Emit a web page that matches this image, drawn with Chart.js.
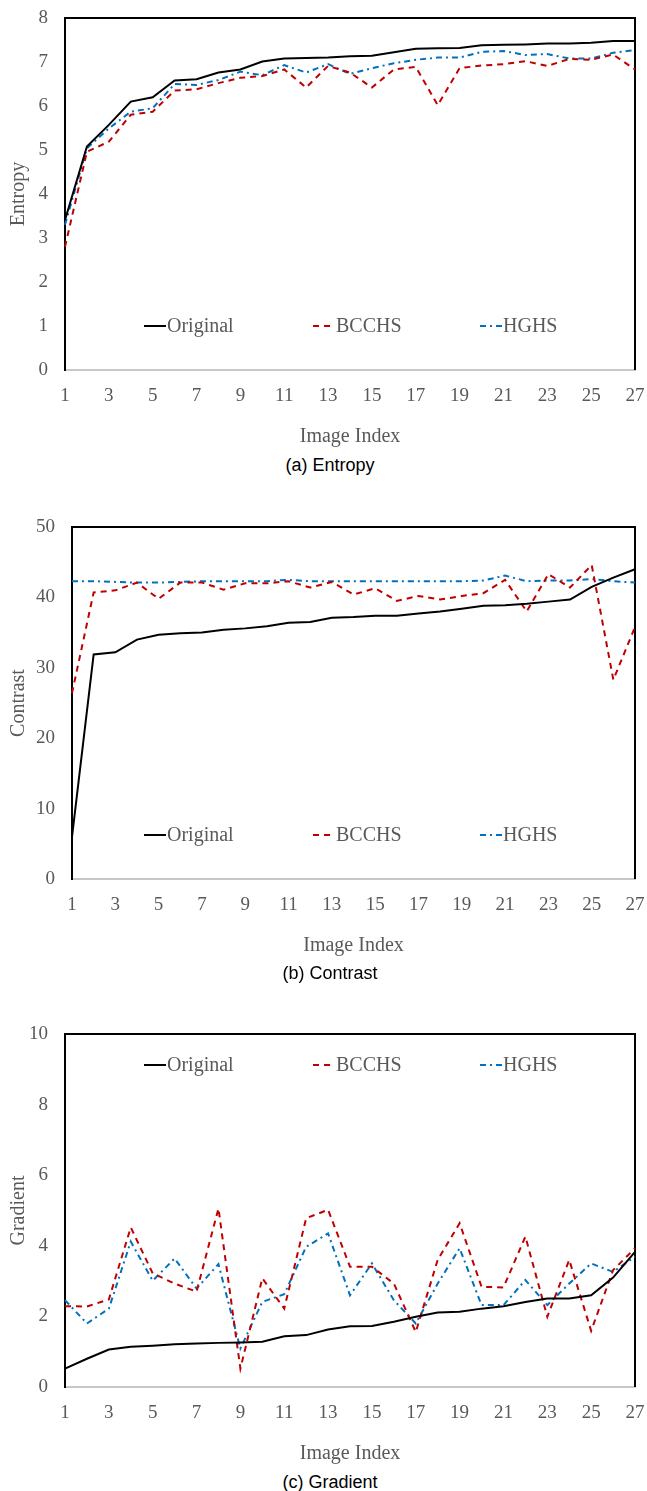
<!DOCTYPE html>
<html>
<head>
<meta charset="utf-8">
<script src="https://cdn.jsdelivr.net/npm/chart.js@4/dist/chart.umd.min.js"></script>
<style>
  body { margin: 0; background: #fff; }
  #page { position: relative; width: 647px; height: 1491px; }
  canvas { position: absolute; left: 0; }
  .caption {
    position: absolute; left: 0; width: 660px; text-align: center;
    font-family: "Liberation Sans", Arial, sans-serif; font-size: 18px; color: #000;
    line-height: 20px;
  }
</style>
</head>
<body>
<div id="page">
  <canvas id="entropyChart"></canvas>
  <canvas id="contrastChart"></canvas>
  <canvas id="gradientChart"></canvas>
  <div class="caption" style="top:455px">(a) Entropy</div>
  <div class="caption" style="top:963px">(b) Contrast</div>
  <div class="caption" style="top:1472px">(c) Gradient</div>
</div>
<script>
const imageIndex = [1, 2, 3, 4, 5, 6, 7, 8, 9, 10, 11, 12, 13, 14, 15, 16, 17, 18, 19, 20, 21, 22, 23, 24, 25, 26, 27];
const seriesNames = ['Original', 'BCCHS', 'HGHS'];

const entropyOriginal = [3.41, 5.08, 5.57, 6.10, 6.20, 6.58, 6.61, 6.76, 6.83, 7.01, 7.08, 7.09, 7.10, 7.13, 7.14, 7.22, 7.30, 7.31, 7.32, 7.38, 7.39, 7.40, 7.42, 7.42, 7.44, 7.48, 7.48];
const entropyBCCHS = [2.80, 4.96, 5.19, 5.80, 5.87, 6.35, 6.38, 6.52, 6.64, 6.68, 6.83, 6.42, 6.91, 6.76, 6.42, 6.83, 6.89, 6.02, 6.86, 6.92, 6.95, 7.02, 6.91, 7.07, 7.05, 7.17, 6.83];
const entropyHGHS = [3.30, 5.04, 5.49, 5.87, 5.95, 6.50, 6.48, 6.59, 6.78, 6.70, 6.93, 6.76, 6.95, 6.73, 6.86, 6.97, 7.05, 7.10, 7.10, 7.23, 7.25, 7.16, 7.18, 7.08, 7.08, 7.21, 7.27];

const contrastOriginal = [6.0, 31.9, 32.2, 34.0, 34.7, 34.9, 35.0, 35.4, 35.6, 35.9, 36.4, 36.5, 37.1, 37.2, 37.4, 37.4, 37.7, 38.0, 38.4, 38.8, 38.9, 39.1, 39.4, 39.7, 41.5, 42.8, 44.0];
const contrastBCCHS = [26.4, 40.7, 41.0, 42.1, 39.8, 42.1, 42.1, 41.1, 42.0, 42.0, 42.3, 41.4, 42.2, 40.4, 41.3, 39.5, 40.2, 39.7, 40.2, 40.6, 42.5, 38.0, 43.3, 41.4, 44.6, 28.3, 35.8];
const contrastHGHS = [42.3, 42.3, 42.2, 42.1, 42.1, 42.2, 42.3, 42.3, 42.3, 42.3, 42.5, 42.3, 42.3, 42.3, 42.3, 42.3, 42.3, 42.3, 42.3, 42.4, 43.1, 42.3, 42.4, 42.4, 42.6, 42.3, 42.1];

const gradientOriginal = [0.52, 0.80, 1.06, 1.14, 1.17, 1.21, 1.23, 1.25, 1.26, 1.28, 1.44, 1.47, 1.63, 1.72, 1.73, 1.85, 1.99, 2.11, 2.13, 2.22, 2.29, 2.41, 2.51, 2.51, 2.60, 3.10, 3.83];
const gradientBCCHS = [2.29, 2.28, 2.48, 4.52, 3.22, 2.93, 2.70, 5.06, 0.52, 3.08, 2.22, 4.78, 5.02, 3.41, 3.41, 2.93, 1.56, 3.60, 4.64, 2.84, 2.82, 4.26, 1.99, 3.60, 1.59, 3.31, 3.93];
const gradientHGHS = [2.46, 1.80, 2.22, 4.12, 3.01, 3.64, 2.79, 3.48, 1.09, 2.41, 2.63, 3.97, 4.35, 2.60, 3.50, 2.46, 1.80, 2.93, 3.93, 2.32, 2.32, 3.03, 2.32, 2.93, 3.50, 3.26, 3.69];

const serifFont = '"Liberation Serif", "Times New Roman", serif';
const textGray = '#595959';
const lineStyles = [
  { color: '#000000', dash: [] },
  { color: '#C00000', dash: [6, 5] },
  { color: '#0070C0', dash: [6, 4, 2, 4] }
];

// top + right edges of the plot frame
const framePlugin = {
  id: 'frame',
  beforeDatasetsDraw(chart) {
    const { ctx, chartArea: a } = chart;
    ctx.save();
    ctx.strokeStyle = '#000';
    ctx.lineWidth = 2;
    ctx.beginPath();
    ctx.moveTo(a.left, a.top);
    ctx.lineTo(a.right, a.top);
    ctx.lineTo(a.right, a.bottom);
    ctx.stroke();
    ctx.restore();
  }
};

// legend sitting inside the plot area
const innerLegend = {
  id: 'innerLegend',
  afterDatasetsDraw(chart, args, opts) {
    const { ctx } = chart;
    const xs = [144, 313, 480];
    ctx.save();
    ctx.font = '20px ' + serifFont;
    ctx.textBaseline = 'middle';
    chart.data.datasets.forEach((ds, i) => {
      const x = xs[i];
      const y = opts.y;
      ctx.strokeStyle = ds.borderColor;
      ctx.lineWidth = 2;
      ctx.setLineDash(ds.borderDash);
      ctx.beginPath();
      ctx.moveTo(x, y);
      ctx.lineTo(x + 22, y);
      ctx.stroke();
      ctx.setLineDash([]);
      ctx.fillStyle = textGray;
      ctx.fillText(ds.label, x + 23, y + 1);
    });
    ctx.restore();
  }
};

function noScalePadding(s) {
  s.paddingLeft = 0;
  s.paddingRight = 0;
  s.paddingTop = 0;
  s.paddingBottom = 0;
}

function makeChart(id, cfg) {
  const canvas = document.getElementById(id);
  const height = Math.round(cfg.plotBottom + 79 - cfg.canvasTop);
  canvas.width = 647;
  canvas.height = height;
  canvas.style.top = cfg.canvasTop + 'px';
  canvas.style.width = '647px';
  canvas.style.height = height + 'px';

  return new Chart(canvas.getContext('2d'), {
    type: 'line',
    data: {
      labels: imageIndex,
      datasets: cfg.series.map((values, i) => ({
        label: seriesNames[i],
        data: values,
        order: i,
        borderColor: lineStyles[i].color,
        borderDash: lineStyles[i].dash,
        borderWidth: 2,
        pointRadius: 0,
        tension: 0,
        fill: false
      }))
    },
    options: {
      responsive: false,
      animation: false,
      devicePixelRatio: 1,
      layout: { padding: { top: cfg.plotTop - cfg.canvasTop, right: 12, left: 0, bottom: 0 } },
      plugins: {
        legend: { display: false },
        tooltip: { enabled: false },
        innerLegend: { y: cfg.legendY - cfg.canvasTop }
      },
      scales: {
        x: {
          type: 'category',
          offset: false,
          grid: { display: false, drawTicks: false },
          border: { display: true, color: '#c8c8c8', width: 2 },
          ticks: {
            autoSkip: false,
            maxRotation: 0,
            padding: 15,
            color: textGray,
            font: { family: serifFont, size: 19 },
            callback: (v, i) => (i % 2 === 0 ? imageIndex[i] : '')
          },
          title: {
            display: true,
            text: 'Image Index',
            color: textGray,
            font: { family: serifFont, size: 20 },
            padding: { top: 0, bottom: 0 }
          },
          afterFit: s => { s.height = 79; noScalePadding(s); }
        },
        y: {
          min: 0,
          max: cfg.yMax,
          grid: { display: false, drawTicks: false },
          border: { display: true, color: '#000', width: 2 },
          ticks: {
            stepSize: cfg.step,
            padding: 17,
            color: textGray,
            font: { family: serifFont, size: 19 }
          },
          title: {
            display: true,
            text: cfg.yTitle,
            color: textGray,
            font: { family: serifFont, size: 20 },
            padding: { top: 7, bottom: 0 }
          },
          afterFit: s => { s.width = cfg.plotLeft; noScalePadding(s); }
        }
      }
    },
    plugins: [framePlugin, innerLegend]
  });
}

makeChart('entropyChart', {
  canvasTop: 0, plotTop: 18, plotBottom: 370, plotLeft: 65,
  yMax: 8, step: 1, yTitle: 'Entropy', legendY: 326,
  series: [entropyOriginal, entropyBCCHS, entropyHGHS]
});

makeChart('contrastChart', {
  canvasTop: 490, plotTop: 527, plotBottom: 879, plotLeft: 72,
  yMax: 50, step: 10, yTitle: 'Contrast', legendY: 835,
  series: [contrastOriginal, contrastBCCHS, contrastHGHS]
});

makeChart('gradientChart', {
  canvasTop: 980, plotTop: 1034, plotBottom: 1387, plotLeft: 65,
  yMax: 10, step: 2, yTitle: 'Gradient', legendY: 1065,
  series: [gradientOriginal, gradientBCCHS, gradientHGHS]
});
</script>
</body>
</html>
